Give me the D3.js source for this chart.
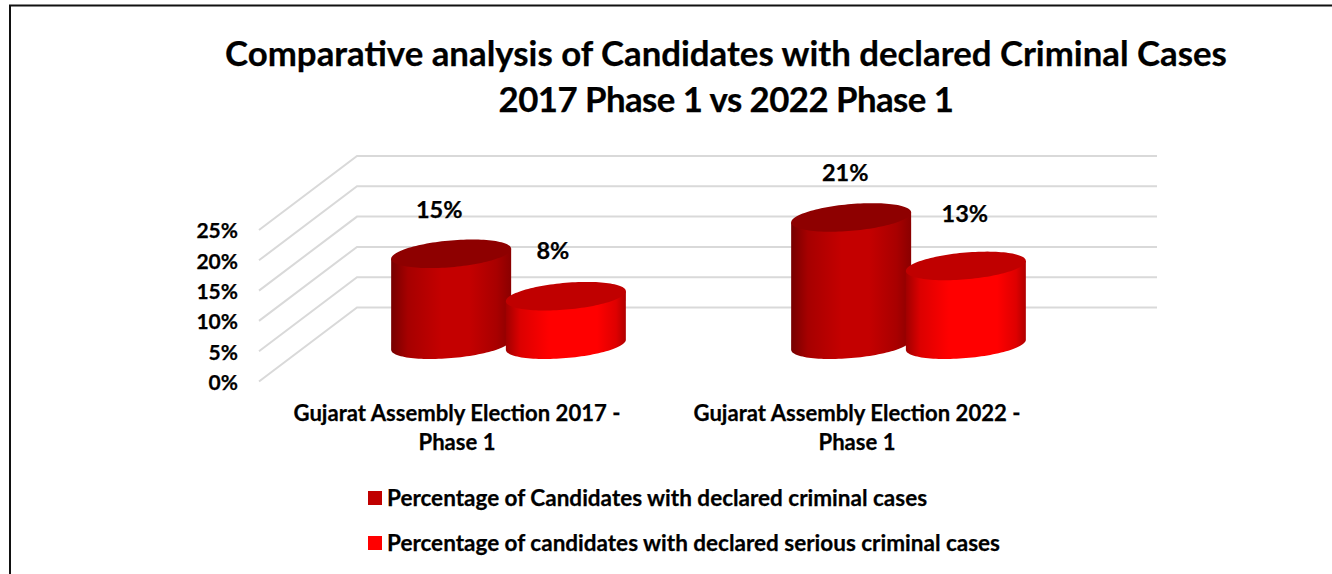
<!DOCTYPE html>
<html>
<head>
<meta charset="utf-8">
<script src="https://cdn.jsdelivr.net/npm/d3@7"></script>
<style>
  html, body { margin: 0; padding: 0; background: #fff; }
  svg { display: block; }
  text { font-family: Lato, sans-serif; font-weight: 700; fill: #000; stroke: #000; stroke-width: 0.25px; }
</style>
</head>
<body>
<div class="canvas"></div>
<script>
// data
const categories = ["Gujarat Assembly Election 2017 - Phase 1", "Gujarat Assembly Election 2022 - Phase 1"];
const seriesNames = ["Percentage of Candidates with declared criminal cases", "Percentage of candidates with declared serious criminal cases"];
const criminalCases = [15, 21];
const seriousCases = [8, 13];
const yTicks = [0, 5, 10, 15, 20, 25];
const titleLines = ["Comparative analysis of Candidates with declared Criminal Cases", "2017 Phase 1 vs 2022 Phase 1"];

const width = 1332, height = 574;

// 3d box: front plane, plus the shift to the back wall
const front = { left: 259, right: 1059, bottom: 381.5, top: 230 };
const depth = { x: 98, y: -74 };
const barShift = { x: 49.5, y: -36.8 };
const rx = 60, ry = 13.4, tilt = 5;

const svg = d3.select(".canvas").append("svg").attr("width", width).attr("height", height);

// colors: side gradient stops and top face
const looks = [
  { id: "sideDark", top: "#8e0000", stops: [["0%", "#760000"], ["14%", "#a60000"], ["42%", "#c40000"], ["65%", "#c40000"], ["88%", "#a80000"], ["100%", "#8a0000"]] },
  { id: "sideRed", top: "#c00000", stops: [["0%", "#a00000"], ["12%", "#dc0000"], ["36%", "#ff0000"], ["76%", "#ff0000"], ["92%", "#de0000"], ["100%", "#b00000"]] }
];
const defs = svg.append("defs");
looks.forEach(l => {
  defs.append("linearGradient").attr("id", l.id)
    .selectAll("stop").data(l.stops).join("stop")
    .attr("offset", d => d[0]).attr("stop-color", d => d[1]);
});

//scales
const yScale = d3.scaleLinear().domain([0, 25]).range([front.bottom, front.top]);
const xScale = d3.scaleBand().domain(categories).range([front.left, front.right]);
const xInner = d3.scaleBand().domain([0, 1]).range([xScale.bandwidth() / 2 - 114.7, xScale.bandwidth() / 2 + 114.7]);

//page frame, only top and left are visible
svg.append("path").attr("d", `M10,${height}V5.5H${width}`).attr("fill", "none").attr("stroke", "#111").attr("stroke-width", 2);

//title
svg.append("text").attr("text-anchor", "middle").attr("font-size", 34.8)
  .selectAll("tspan").data(titleLines).join("tspan")
  .attr("x", 726).attr("y", (d, i) => 66 + i * 46)
  .attr("letter-spacing", (d, i) => i ? -0.55 : 0)
  .text(d => d);

//walls
const grid = svg.append("g").attr("fill", "none").attr("stroke", "#d9d9d9").attr("stroke-width", 2);
grid.selectAll("path").data(yTicks).join("path")
  .attr("d", d => `M${front.left},${yScale(d)}L${front.left + depth.x},${yScale(d) + depth.y}H${front.right + depth.x}`);

//axes
const yAxisGroup = svg.append("g").attr("transform", `translate(${front.left - 12},0)`)
  .call(d3.axisLeft(yScale).tickValues(yTicks).tickFormat(d => d + "%").tickSize(0));
yAxisGroup.select(".domain").remove();
yAxisGroup.selectAll("text").attr("font-size", 21).attr("dy", "0.38em").attr("x", -9);

const xAxisGroup = svg.append("g").attr("transform", `translate(-2,${front.bottom})`)
  .call(d3.axisBottom(xScale).tickSize(0));
xAxisGroup.select(".domain").remove();
xAxisGroup.selectAll("text").attr("font-size", 22.1).each(function (d) {
  const parts = d.split("- ");
  d3.select(this).text(null).selectAll("tspan").data([parts[0] + "-", parts[1]]).join("tspan")
    .attr("x", 0).attr("y", (p, i) => 39 + i * 29).attr("dy", 0).text(p => p);
});

//cylinders
const ellipsePoint = (cx, cy, t) => [cx + rx * Math.cos(t), cy - tilt * Math.cos(t) + ry * Math.sin(t)];
const line = d3.line();
const barLayer = svg.append("g");

const drawBars = (values, s) => {
  values.forEach((v, i) => {
    const cx = xScale(categories[i]) + xInner(s) + xInner.bandwidth() / 2 + barShift.x;
    const yBase = yScale(0) + barShift.y;
    const yTop = yScale(v) + barShift.y;
    const lower = d3.range(0, 61).map(k => ellipsePoint(cx, yBase, Math.PI - k * Math.PI / 60));
    const upper = d3.range(0, 121).map(k => ellipsePoint(cx, yTop, k * 2 * Math.PI / 120));
    const leftTop = ellipsePoint(cx, yTop, Math.PI), rightTop = ellipsePoint(cx, yTop, 0);
    barLayer.append("path")
      .attr("d", line([leftTop, ...lower, rightTop]) + "Z")
      .attr("fill", `url(#${looks[s].id})`);
    barLayer.append("path")
      .attr("d", line(upper) + "Z")
      .attr("fill", looks[s].top);
  });
};
drawBars(criminalCases, 0);
drawBars(seriousCases, 1);

//data labels sit where the original chart had them dragged to
const labelNudge = [[[-12, -44.5], [-6, -45]], [[-13, -46.5], [-1, -52.5]]];
[criminalCases, seriousCases].forEach((values, s) => {
  svg.append("g").selectAll("text").data(values).join("text")
    .attr("text-anchor", "middle").attr("dominant-baseline", "central").attr("font-size", 23.5)
    .attr("x", (d, i) => xScale(categories[i]) + xInner(s) + xInner.bandwidth() / 2 + barShift.x + labelNudge[s][i][0])
    .attr("y", (d, i) => yScale(d) + barShift.y + labelNudge[s][i][1])
    .text(d => d + "%");
});

//legend
const legend = svg.append("g").selectAll("g").data(seriesNames).join("g")
  .attr("transform", (d, i) => `translate(368,${491 + i * 45})`);
legend.append("rect").attr("width", 14).attr("height", 14).attr("fill", (d, i) => i ? "#ff0000" : "#c00000");
legend.append("text").attr("x", 19).attr("y", 15).attr("font-size", 22.5).text(d => d);
</script>
</body>
</html>
